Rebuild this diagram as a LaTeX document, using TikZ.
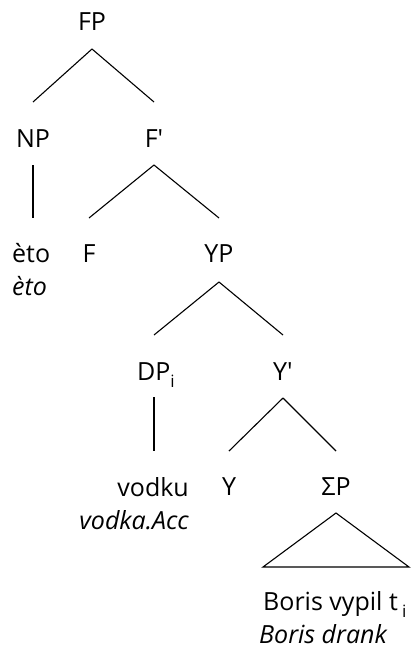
\documentclass[tikz,border=0pt]{standalone}
\usepackage{fontspec}
\setmainfont{Open Sans}
\newcommand{\idx}[1]{\raisebox{-7pt}{\fontsize{17pt}{17pt}\selectfont #1}}

\begin{document}
\begin{tikzpicture}[
    x=1pt, y=-1pt,
    cat/.style={anchor=base, inner sep=0pt, font=\fontsize{25pt}{33pt}\selectfont},
    word/.style={inner sep=0pt, font=\fontsize{25pt}{33pt}\selectfont},
    gloss/.style={word, font=\fontsize{25pt}{33pt}\selectfont\itshape},
    edge/.style={line width=1.1pt, -}
]
    \useasboundingbox (0,0) rectangle (414,649);
    % categories
    \node[cat] (fp) at (92,30) {FP};
    \node[cat] (np) at (33,147) {NP};
    \node[cat] (fbar) at (154,147) {F\textquotesingle};
    \node[cat] (f) at (89,262) {F};
    \node[cat] (yp) at (219,262) {YP};
    \node[cat] (dp) at (156,380) {DP\idx{i}};
    \node[cat] (ybar) at (283,380) {Y\textquotesingle};
    \node[cat] (y) at (229,495) {Y};
    \node[cat] (sp) at (336,495) {ΣP};
    % words and glosses
    \node[word, anchor=base west] (eto) at (12,262) {èto};
    \node[gloss, anchor=base west] (etogl) at (12,295) {èto};
    \node[word, anchor=base east] (vodku) at (189,496) {vodku};
    \node[gloss, anchor=base east] (vodkugl) at (189,529) {vodka.Acc};
    \node[word, anchor=base west] (boris) at (263,610) {Boris vypil t\,\idx{i}};
    \node[gloss, anchor=base west] (borisgl) at (259,643) {Boris drank};
    % branches
    \draw[edge] ([yshift=-19pt]fp.base) -- ([yshift=45pt]np.base);
    \draw[edge] ([yshift=-19pt]fp.base) -- ([yshift=45pt]fbar.base);
    \draw[edge] ([yshift=-18pt]np.base) -- ([yshift=44pt,xshift=21pt]eto.base west);
    \draw[edge] ([yshift=-18pt]fbar.base) -- ([yshift=44pt]f.base);
    \draw[edge] ([yshift=-18pt]fbar.base) -- ([yshift=44pt]yp.base);
    \draw[edge] ([yshift=-20pt]yp.base) -- ([yshift=45pt,xshift=-2pt]dp.base);
    \draw[edge] ([yshift=-20pt]yp.base) -- ([yshift=45pt]ybar.base);
    \draw[edge] ([yshift=-17pt,xshift=-2pt]dp.base) -- ([yshift=45pt,xshift=-35pt]vodku.base east);
    \draw[edge] ([yshift=-18pt]ybar.base) -- ([yshift=44pt]y.base);
    \draw[edge] ([yshift=-18pt]ybar.base) -- ([yshift=44pt]sp.base);
    % roof over the spelled-out SigmaP
    \draw[edge] ([yshift=-18pt]sp.base) -- ([yshift=43pt]boris.base west)
        -- ([yshift=43pt,xshift=146pt]boris.base west) -- cycle;
\end{tikzpicture}
\end{document}
